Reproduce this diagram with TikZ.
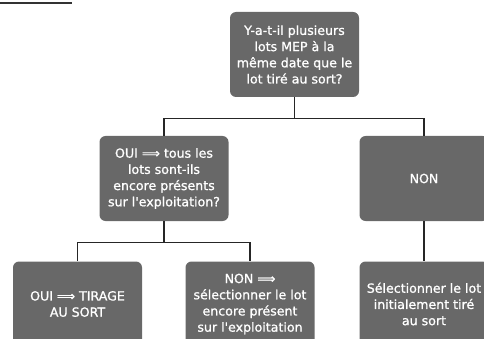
\documentclass[tikz,border=0pt]{standalone}
\usepackage{fontspec}
\setmainfont{DejaVu Sans}
\newfontfamily\etapefont{DejaVu Sans}[BoldFont=DejaVu Sans, BoldFeatures={FakeBold=1.0}]
\usetikzlibrary{positioning}
\definecolor{boxgray}{RGB}{104,104,104}

\begin{document}
\begin{tikzpicture}[x=1pt, y=1pt,
    etape/.style={draw=none, fill=boxgray, rounded corners=6pt, text=white,
        minimum width=129pt, minimum height=85pt, inner sep=2pt, align=center,
        font=\etapefont\fontsize{12.6}{16.2}\selectfont\bfseries},
    lien/.style={draw=black!85, line width=1.1pt}]
    \useasboundingbox (0,0) rectangle (484,-339);

    % titre coupe en haut a gauche
    \draw[line width=1.8pt, black!80] (0,-3) -- (72,-3);

    \node[etape] (question) at (294.5,-54.5) {Y-a-t-il plusieurs\\lots MEP à la\\même date que le\\lot tiré au sort?};
    \node[etape] (oui) at (164,-178.5) {OUI ⟹ tous les\\lots sont-ils\\encore présents\\sur l'exploitation?};
    \node[etape] (non) at (424,-178.5) {NON};
    \node[etape] (tirage) at (77.5,-304) {OUI ⟹ TIRAGE\\AU SORT};
    \node[etape] (present) at (250,-304) {NON ⟹\\sélectionner le lot\\encore présent\\sur l'exploitation};
    \node[etape] (initial) at (424,-304) {Sélectionner le lot\\initialement tiré\\au sort};

    % liaisons
    \draw[lien] (question.south) -- ++(0,-21) coordinate (nq) -| (oui.north);
    \draw[lien] (nq) -| (non.north);
    \draw[lien] (oui.south) -- ++(0,-21) coordinate (no) -| (tirage.north);
    \draw[lien] (no) -| (present.north);
    \draw[lien] (non.south) -- (initial.north);
\end{tikzpicture}
\end{document}
